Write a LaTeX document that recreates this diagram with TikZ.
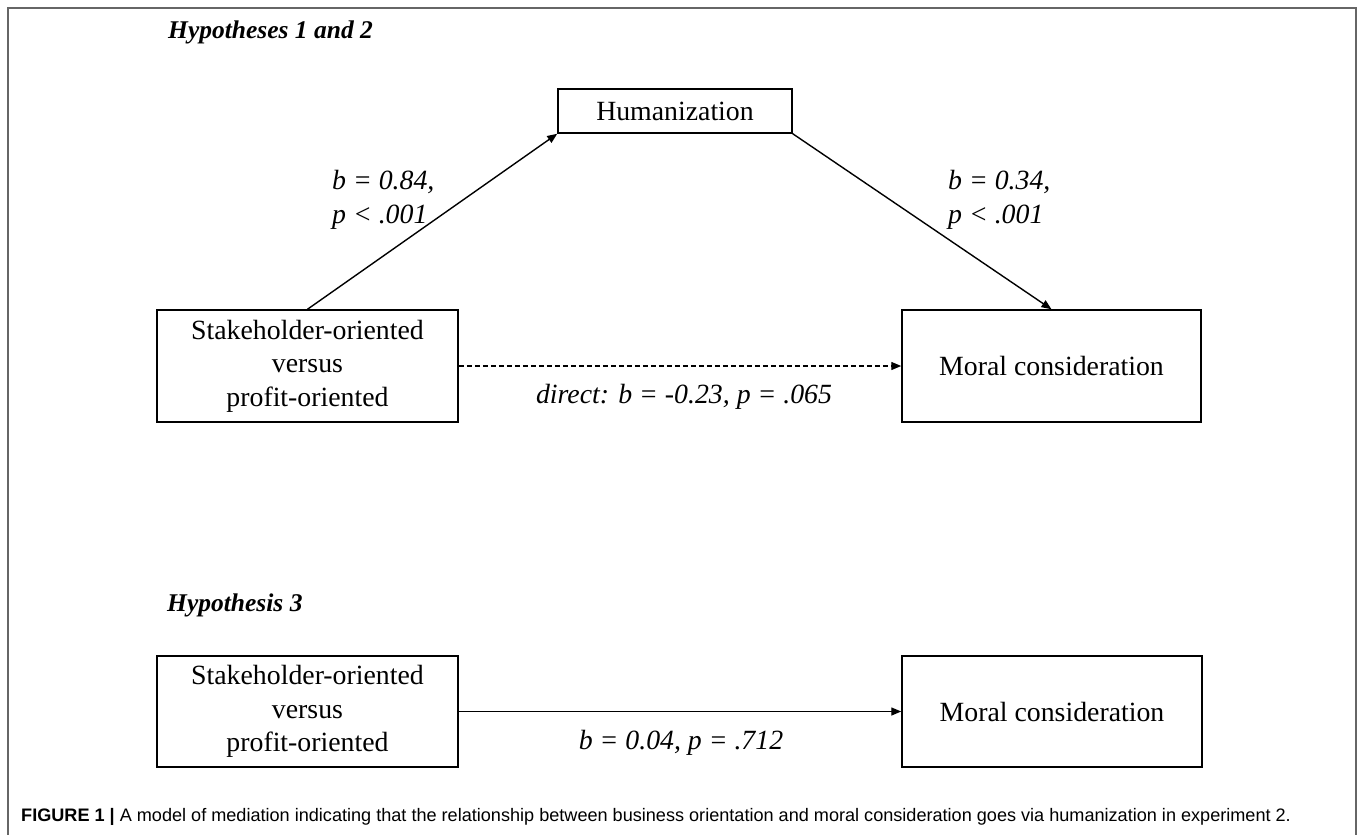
\documentclass[tikz,border=0pt]{standalone}
\usepackage{fontspec}
\setmainfont{Liberation Serif}
\newfontfamily\capfont{Liberation Sans}
\usetikzlibrary{arrows.meta,positioning}

\tikzset{
  box/.style={draw, line width=1.5pt, align=center, inner sep=0pt,
    font=\fontsize{27.8}{33.4}\selectfont},
  lab/.style={font=\fontsize{27.8}{34}\selectfont\itshape, align=left, inner sep=0pt},
  hyp/.style={font=\fontsize{25.5}{30}\selectfont\bfseries\itshape, anchor=base west, inner sep=0pt},
  arr/.style={-{Triangle[length=10pt,width=8pt]}, line width=1.4pt},
}

\begin{document}
\begin{tikzpicture}[x=1pt,y=-1pt]
    \useasboundingbox (0,0) rectangle (1360,835);
    \draw[line width=2pt, black!60] (8,835) -- (8,8) -- (1356,8) -- (1356,835);

    % Hypotheses 1 and 2
    \node[hyp] (hA) at (168,38) {Hypotheses 1 and 2};
    \node[box, minimum width=234pt, minimum height=44pt] (hum) at (675,111) {Humanization};
    \node[box, minimum width=301pt, minimum height=112pt] (so1) at (307.5,366)
        {Stakeholder-oriented\\versus\\profit-oriented};
    \node[box, minimum width=299pt, minimum height=112pt] (mc1) at (1051.5,366) {Moral consideration};

    \draw[arr] (so1.north) -- (hum.south west);
    \draw[arr] (hum.south east) -- (mc1.north);
    \draw[arr, dashed, dash pattern=on 5pt off 3pt] (so1.east) -- (mc1.west);

    \node[lab, anchor=west] (ab) at (332,200) {b = 0.84,\\p < .001};
    \node[lab, anchor=west] (bb) at (948,200) {b = 0.34,\\p < .001};
    \node[lab] (cb) at (684,397) {direct: b = -0.23, p = .065};

    % Hypothesis 3
    \node[hyp] (hB) at (167,611) {Hypothesis 3};
    \node[box, minimum width=301pt, minimum height=111pt] (so2) at (307.5,711.5)
        {Stakeholder-oriented\\versus\\profit-oriented};
    \node[box, minimum width=300pt, minimum height=111pt] (mc2) at (1052,711.5) {Moral consideration};

    \draw[arr] (so2.east) -- (mc2.west);
    \node[lab] (tb) at (681,743) {b = 0.04, p = .712};

    % caption
    \node[anchor=base west, inner sep=0pt, font=\capfont\fontsize{18.1}{22}\selectfont] (cap) at (21,821)
        {\textbf{FIGURE 1 |} A model of mediation indicating that the relationship between business orientation and moral consideration goes via humanization in experiment 2.};
\end{tikzpicture}
\end{document}
